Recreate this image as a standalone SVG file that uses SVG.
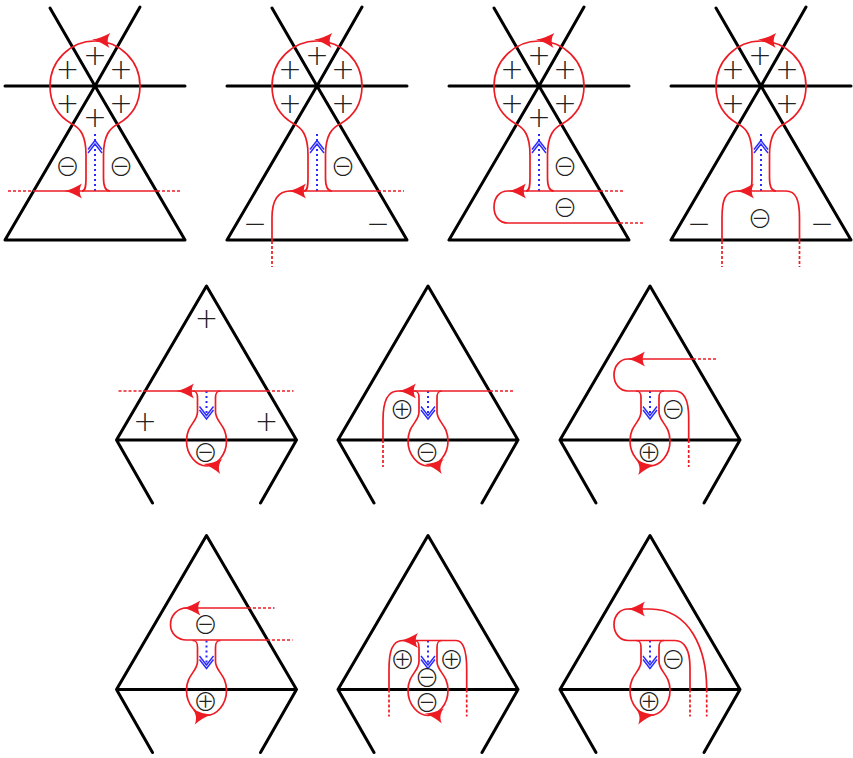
<svg xmlns="http://www.w3.org/2000/svg" xmlns:xlink="http://www.w3.org/1999/xlink" width="853" height="758" viewBox="0 0 853 758">
<style>
.k{fill:none;stroke:#000;stroke-width:3;stroke-linecap:round;stroke-linejoin:round}
.r{fill:none;stroke:#ed1c24;stroke-width:1.7}
.d{fill:none;stroke:#ed1c24;stroke-width:1.7;stroke-dasharray:3 2}
.bd{fill:none;stroke:#2a2aff;stroke-width:2;stroke-dasharray:2 3}
.b{fill:none;stroke:#2a2aff;stroke-width:1.4}
.a{fill:#ed1c24}
text{fill:#222;text-anchor:middle}
.p{font:200 28px "DejaVu Sans",sans-serif}
.m{font:200 28px "DejaVu Sans",sans-serif}
.c{font:300 25px "Noto Sans CJK JP",sans-serif}
</style>
<defs>
<path id="ah" d="M0,0C6,-1 12,-4 18,-7.500C15,-3 15,3 18,7.500C12,4 6,1 0,0Z"/>
<g id="star"><path class="k" d="M-90,240H90L0,86M-90,240L0,86M-90,86H90M0,86L-45,8M0,86L45,7"/></g>
<g id="tri"><path class="k" d="M-90,440H90L0,286L-90,440L-54,503M90,440L54,503"/></g>
<g id="head"><path class="r" d="M-13,191C-10,191 -9,188 -9,178L-9,155C-9,135 -15,128 -23,124C-37,116 -45,103 -45,86A45,45 0 0 1 45,86C45,103 37,116 23,124C15,128 8.500,135 8.500,155L8.500,178C8.500,188 11,191 15,191"/>
<use href="#ah" class="a" transform="translate(-3,39.500) rotate(3)"/>
<path class="bd" d="M0,191V131"/><path class="b" d="M-7,149.500L0,140.500L7,149.500M-7,153L0,144L7,153"/></g>
<g id="bulb"><path class="r" d="M-14,391C-10,391 -9,393 -9,398L-9,412C-9,422 -20,425 -20,441C-20,455 -10,466 0,466C10,466 20,455 20,441C20,425 9,422 9,412L9,398C9,393 10,391 14,391"/>
<path class="bd" d="M0,391V414"/><path class="b" d="M-7,406.500L0,415.500L7,406.500M-7,410L0,419L7,410"/></g>
</defs>
<g id="panel-1-1" transform="translate(95,0)">
<use href="#star"/><use href="#head"/>
<path class="r" d="M-62,191H62"/><path class="d" d="M-87,191H-62M62,191H87"/>
<use href="#ah" class="a" transform="translate(-31,191)"/>
<text class="p" x="-27.500" y="79">+</text><text class="p" x="0" y="65">+</text><text class="p" x="26" y="79">+</text><text class="p" x="-27.500" y="113">+</text><text class="p" x="26" y="113">+</text><text class="p" x="0" y="127">+</text>
<text class="c" x="-27.500" y="175.500">⊖</text><text class="c" x="26" y="175.500">⊖</text>
</g>
<g id="panel-1-2" transform="translate(317,0)">
<use href="#star"/><use href="#head"/>
<path class="r" d="M-45,241V218C-45,200 -39,191 -27,191H61"/><path class="d" d="M-45,241V267M61,191H87"/>
<use href="#ah" class="a" transform="translate(-29,191)"/>
<text class="p" x="-27" y="79">+</text><text class="p" x="0" y="65">+</text><text class="p" x="26" y="79">+</text><text class="p" x="-27" y="113">+</text><text class="p" x="26" y="113">+</text>
<text class="c" x="26" y="175.500">⊖</text>
<text class="m" x="-62" y="233">−</text><text class="m" x="61" y="233">−</text>
</g>
<g id="panel-1-3" transform="translate(539,0)">
<use href="#star"/><use href="#head"/>
<path class="r" d="M61,191H-31C-40,191 -45,198 -45,207C-45,216 -40,223 -31,223H81"/><path class="d" d="M61,191H86M81,223H105"/>
<use href="#ah" class="a" transform="translate(-31,191)"/>
<text class="p" x="-27" y="79">+</text><text class="p" x="0" y="65">+</text><text class="p" x="26" y="79">+</text><text class="p" x="-27" y="113">+</text><text class="p" x="26" y="113">+</text><text class="p" x="0" y="127">+</text>
<text class="c" x="26" y="175.500">⊖</text><text class="c" x="26" y="216.500">⊖</text>
</g>
<g id="panel-1-4" transform="translate(761,0)">
<use href="#star"/><use href="#head"/>
<path class="r" d="M-39,241V218C-39,200 -36,191 -24,191H25C35,191 38.500,200 38.500,218V241"/><path class="d" d="M-39,241V267M38.500,241V267"/>
<use href="#ah" class="a" transform="translate(-25,191)"/>
<text class="p" x="-28" y="79">+</text><text class="p" x="-1" y="65">+</text><text class="p" x="26" y="79">+</text><text class="p" x="-28" y="113">+</text><text class="p" x="26" y="113">+</text>
<text class="c" x="-1" y="227.500">⊖</text>
<text class="m" x="-62" y="233">−</text><text class="m" x="61" y="233">−</text>
</g>
<g id="panel-2-1" transform="translate(206.500,0)">
<use href="#tri"/><use href="#bulb"/>
<path class="r" d="M-63.500,391H60.500"/><path class="d" d="M-88,391H-63.500M60.500,391H87"/>
<use href="#ah" class="a" transform="translate(-30.500,391)"/>
<use href="#ah" class="a" transform="translate(-3,464) rotate(8)"/>
<text class="p" x="0" y="328">+</text><text class="p" x="-61.500" y="431">+</text><text class="p" x="60" y="431">+</text>
<text class="c" x="-1" y="461.500">⊖</text>
</g>
<g id="panel-2-2" transform="translate(428,0)">
<use href="#tri"/><use href="#bulb"/>
<path class="r" d="M-45,440V420C-45,402 -41,391 -30,391H62"/><path class="d" d="M-45,440V467M62,391H86"/>
<use href="#ah" class="a" transform="translate(-30,391)"/>
<use href="#ah" class="a" transform="translate(-3,464) rotate(8)"/>
<text class="c" x="-26" y="419">⊕</text><text class="c" x="-1" y="461.500">⊖</text>
</g>
<g id="panel-2-3" transform="translate(650,0)">
<use href="#tri"/><use href="#bulb"/>
<path class="r" d="M43,359H-22C-30,359 -36,366 -36,375C-36,384 -30,391 -22,391H25C34,391 38.700,400 38.700,418V440"/><path class="d" d="M43,359H68M38.700,440V467"/>
<use href="#ah" class="a" transform="translate(-23,359)"/>
<use href="#ah" class="a" transform="translate(5,465) rotate(172)"/>
<text class="c" x="23.300" y="419">⊖</text><text class="c" x="-1" y="461.500">⊕</text>
</g>
<g id="panel-3-1" transform="translate(206.500,249.500)">
<use href="#tri"/><use href="#bulb"/>
<path class="r" d="M41.500,358.500H-20C-29,358.500 -36,366 -36,375C-36,384 -29,390.500 -20,390.500H60.500"/><path class="d" d="M41.500,358.500H68M60.500,390.500H86"/>
<use href="#ah" class="a" transform="translate(-24,358.500)"/>
<use href="#ah" class="a" transform="translate(5,465) rotate(172)"/>
<text class="c" x="-1" y="384">⊖</text><text class="c" x="-1" y="461.500">⊕</text>
</g>
<g id="panel-3-2" transform="translate(428,249.500)">
<use href="#tri"/><use href="#bulb"/>
<path class="r" d="M-39,440V420C-39,402 -36,391 -25,391H28C36,391 38.700,402 38.700,420V440"/><path class="d" d="M-39,440V467M38.700,440V467"/>
<use href="#ah" class="a" transform="translate(-28,391)"/>
<use href="#ah" class="a" transform="translate(-3,464) rotate(8)"/>
<text class="c" x="-25.500" y="419.500">⊕</text><text class="c" x="23.500" y="419.500">⊕</text><text class="c" x="-1" y="437.500">⊖</text><text class="c" x="-1" y="462.500">⊖</text>
</g>
<g id="panel-3-3" transform="translate(650,249.500)">
<use href="#tri"/><use href="#bulb"/>
<path class="r" d="M0,359.500H-22C-30,359.500 -36,366 -36,375C-36,384 -30,391 -22,391H25C34,391 40,400 40,418V440M0,359.500C40,359.500 56.700,400 56.700,440"/><path class="d" d="M40,440V467M56.700,440V467"/>
<use href="#ah" class="a" transform="translate(-23,359.500)"/>
<use href="#ah" class="a" transform="translate(5,465) rotate(172)"/>
<text class="c" x="23.300" y="419.500">⊖</text><text class="c" x="-1" y="461.500">⊕</text>
</g>
</svg>
